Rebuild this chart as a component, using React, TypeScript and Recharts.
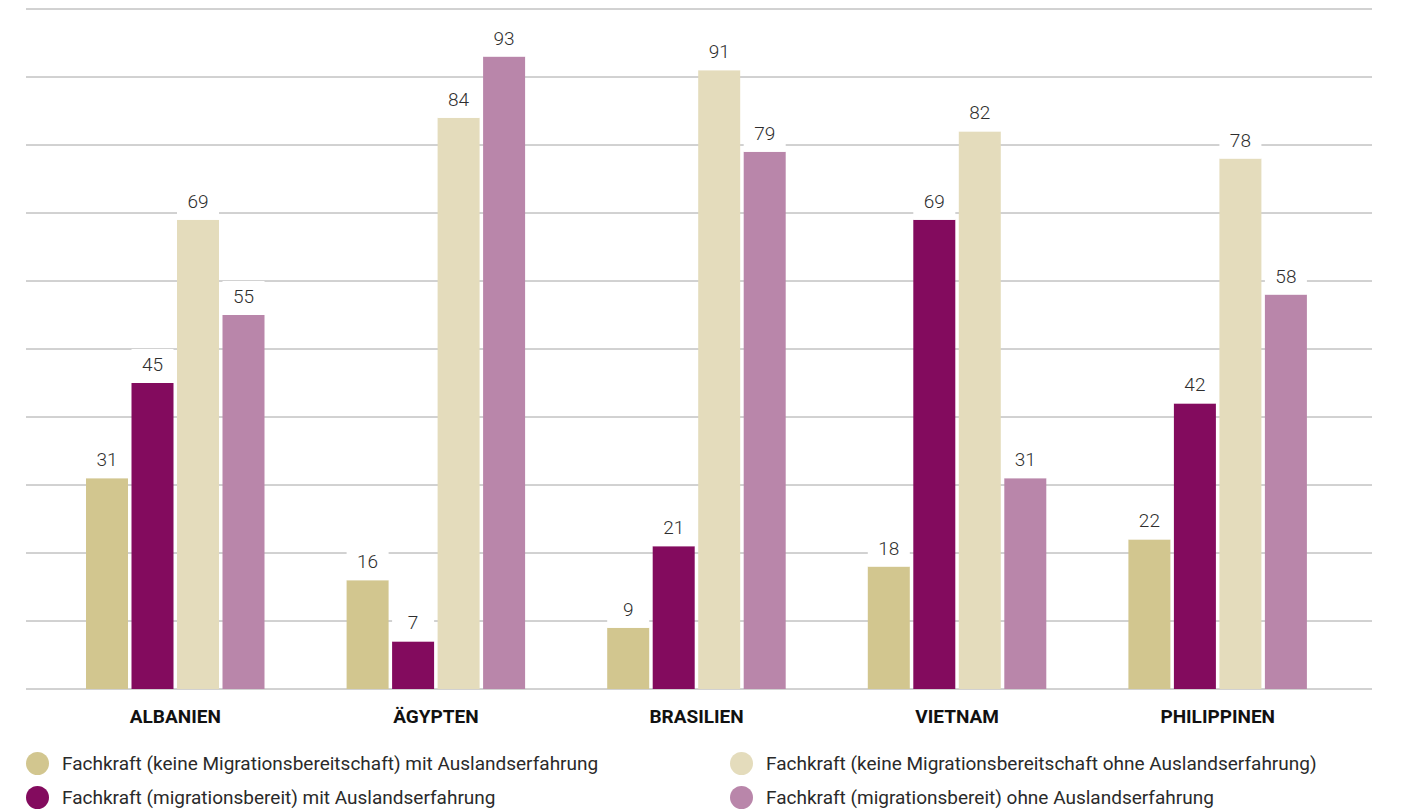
import React from "react";
import { BarChart, Bar, XAxis, YAxis, CartesianGrid, LabelList, Legend } from "recharts";

const categories = ["ALBANIEN", "ÄGYPTEN", "BRASILIEN", "VIETNAM", "PHILIPPINEN"];
const keineMit = [31, 16, 9, 18, 22];
const migMit = [45, 7, 21, 69, 42];
const keineOhne = [69, 84, 91, 82, 78];
const migOhne = [55, 93, 79, 31, 58];
const yTicks = [0, 10, 20, 30, 40, 50, 60, 70, 80, 90, 100];

const seriesNames = [
  "Fachkraft (keine Migrationsbereitschaft) mit Auslandserfahrung",
  "Fachkraft (migrationsbereit) mit Auslandserfahrung",
  "Fachkraft (keine Migrationsbereitschaft ohne Auslandserfahrung)",
  "Fachkraft (migrationsbereit) ohne Auslandserfahrung",
];
const seriesKeys = ["s1", "s2", "s3", "s4"];
const seriesColors = ["#D2C68F", "#830B5E", "#E4DCBC", "#B986AA"];

const data = categories.map((c, i) => ({
  name: c,
  s1: keineMit[i],
  s2: migMit[i],
  s3: keineOhne[i],
  s4: migOhne[i],
}));

const FONT = "Roboto, 'DejaVu Sans', sans-serif";

const ValueLabel = (props: any) => {
  const { x, y, width, value } = props;
  return (
    <g>
      <rect x={x} y={y - 34} width={width} height={34} fill="#ffffff" />
      <text
        x={x + width / 2}
        y={y - 12}
        textAnchor="middle"
        fill="#2e2e2e"
        fontFamily={FONT}
        fontWeight={300}
        fontSize={19}
      >
        {value}
      </text>
    </g>
  );
};

const CategoryTick = (props: any) => {
  const { x, y, payload } = props;
  return (
    <text
      x={x}
      y={y + 34}
      textAnchor="middle"
      fill="#111111"
      fontFamily={FONT}
      fontWeight={700}
      fontSize={19}
    >
      {payload.value}
    </text>
  );
};

const legendPos = [
  { left: 0, top: 22 },
  { left: 0, top: 56 },
  { left: 704, top: 22 },
  { left: 704, top: 56 },
];

const LegendContent = () => (
  <div style={{ position: "relative", height: 80, width: 1350 }}>
    {seriesNames.map((n, i) => (
      <div
        key={n}
        style={{
          position: "absolute",
          left: legendPos[i].left,
          top: legendPos[i].top,
          height: 24,
          display: "flex",
          alignItems: "center",
          whiteSpace: "nowrap",
        }}
      >
        <span
          style={{
            display: "inline-block",
            width: 23,
            height: 23,
            borderRadius: "50%",
            background: seriesColors[i],
            marginRight: 13,
          }}
        />
        <span style={{ fontFamily: FONT, fontSize: 19, color: "#2a2a2a" }}>{n}</span>
      </div>
    ))}
  </div>
);

export default function App() {
  return (
    <BarChart
      width={1398}
      height={801}
      data={data}
      margin={{ top: 1, right: 34, bottom: 0, left: 18 }}
      barSize={42}
      barGap={3.5}
    >
      <CartesianGrid vertical={false} stroke="#a4a4a4" strokeWidth={1} />
      <YAxis hide domain={[0, 100]} ticks={yTicks} />
      <XAxis
        dataKey="name"
        axisLine={false}
        tickLine={false}
        tickSize={0}
        tickMargin={0}
        height={40}
        padding={{ left: 19, right: 24 }}
        tick={<CategoryTick />}
        interval={0}
      />
      <Legend verticalAlign="bottom" content={<LegendContent />} wrapperStyle={{ height: 80 }} />
      {seriesKeys.map((k, i) => (
        <Bar key={k} dataKey={k} name={seriesNames[i]} fill={seriesColors[i]} isAnimationActive={false}>
          <LabelList dataKey={k} content={<ValueLabel />} />
        </Bar>
      ))}
    </BarChart>
  );
}
